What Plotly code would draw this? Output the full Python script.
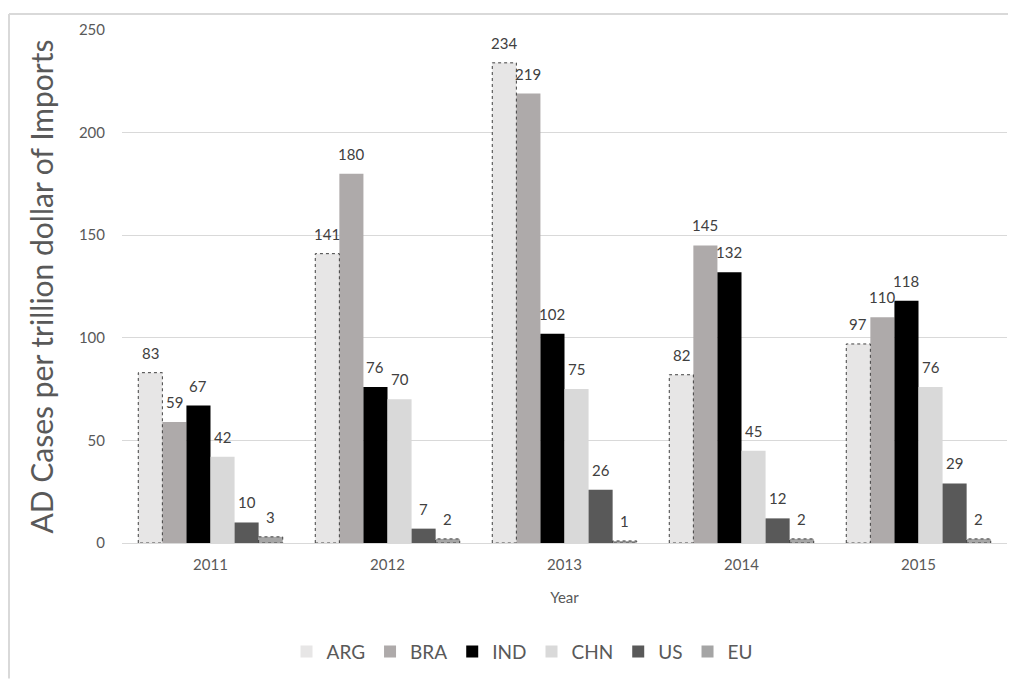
import plotly.graph_objects as go

years = ["2011", "2012", "2013", "2014", "2015"]
series_names = ["ARG", "BRA", "IND", "CHN", "US", "EU"]
ARG = [83, 141, 234, 82, 97]
BRA = [59, 180, 219, 145, 110]
IND = [67, 76, 102, 132, 118]
CHN = [42, 70, 75, 45, 76]
US = [10, 7, 26, 12, 29]
EU = [3, 2, 1, 2, 2]
values = [ARG, BRA, IND, CHN, US, EU]
colors = ["#e7e6e6", "#aeaaaa", "#000000", "#d9d9d9", "#595959", "#a5a5a5"]
dashed = [True, False, False, False, False, True]

bar_w = 0.136
n = len(series_names)
start = -bar_w * n / 2
xs = list(range(len(years)))

fig = go.Figure()
font_fam = "Lato, 'Open Sans', sans-serif"
annotations = []
for i, (name, vals, col) in enumerate(zip(series_names, values, colors)):
    off = start + i * bar_w
    fig.add_trace(go.Bar(
        x=xs, y=vals, name=name, width=bar_w, offset=off,
        marker=dict(color=col, line=dict(width=0)),
    ))
    for c, v in zip(xs, vals):
        annotations.append(dict(
            x=c + off + bar_w / 2, y=v, xref="x", yref="y", text=str(v),
            showarrow=False, yanchor="middle", xanchor="center", yshift=20,
            font=dict(size=15, color="#404040", family=font_fam)))
for i, (vals, d) in enumerate(zip(values, dashed)):
    if not d:
        continue
    off = start + i * bar_w
    ox, oy = [], []
    for c, v in zip(xs, vals):
        ox += [c + off, c + off, c + off + bar_w, c + off + bar_w, c + off, None]
        oy += [0, v, v, 0, 0, None]
    fig.add_trace(go.Scatter(x=ox, y=oy, mode="lines", showlegend=False,
                             hoverinfo="skip",
                             line=dict(color="#404040", width=1, dash="dot")))

fig.update_layout(
    width=1016, height=683,
    margin=dict(l=114, r=17, t=17, b=148),
    paper_bgcolor="white", plot_bgcolor="white",
    barmode="overlay",
    font=dict(family=font_fam, color="#595959"),
    showlegend=True,
    annotations=annotations,
    legend=dict(orientation="h", x=0.452, xanchor="center", y=-0.212, yanchor="middle",
                font=dict(size=19, color="#595959"), traceorder="normal"),
    xaxis=dict(range=[-0.5, 4.5], tickvals=xs, ticktext=years, showgrid=False,
               showline=True, linecolor="#d9d9d9", linewidth=1, ticks="",
               ticklabelstandoff=8,
               tickfont=dict(size=15, color="#595959"),
               title=dict(text="Year", font=dict(size=15, color="#595959"), standoff=20),
               zeroline=False),
    yaxis=dict(range=[0, 250], tickvals=[0, 50, 100, 150, 200, 250], showgrid=True,
               gridcolor="#d9d9d9", gridwidth=1, zeroline=False, showline=False,
               ticks="", ticklabelstandoff=16,
               tickfont=dict(size=15, color="#595959"),
               title=dict(text="AD Cases per trillion dollar of Imports",
                          font=dict(size=30, color="#595959"), standoff=16)),
    shapes=[
        dict(type="line", xref="paper", yref="paper", x0=-0.1277, x1=1.01, y0=1.031, y1=1.031,
             line=dict(color="#d9d9d9", width=2)),
        dict(type="line", xref="paper", yref="paper", x0=-0.1277, x1=-0.1277, y0=1.031, y1=-0.264,
             line=dict(color="#d9d9d9", width=2)),
    ],
)
fig.write_html("out.html")
